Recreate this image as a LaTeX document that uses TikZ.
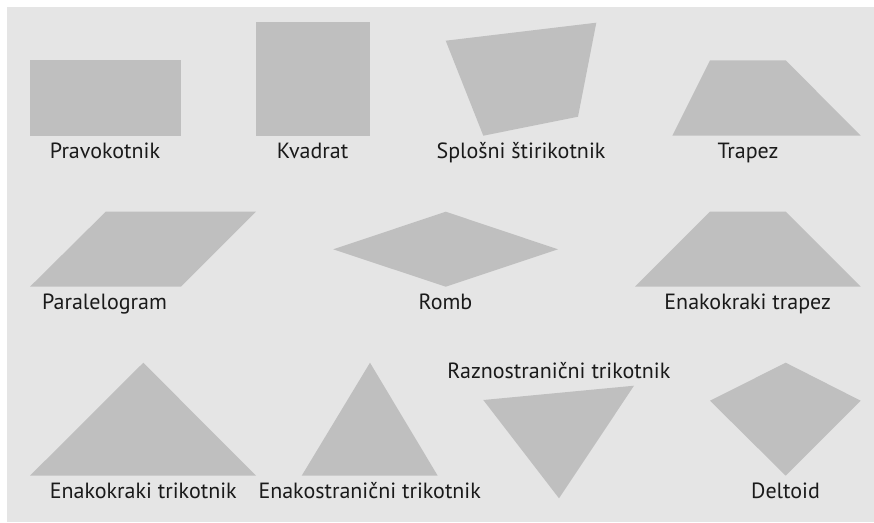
\documentclass[tikz,border=0pt]{standalone}
\usepackage{fontspec}
\setmainfont{PT Sans}
\definecolor{bgc}{HTML}{E5E5E5}
\definecolor{shc}{HTML}{BFBFBF}
\definecolor{txc}{HTML}{1A1A1A}
\tikzset{
  shp/.style={fill=shc, draw=none},
  lbl/.style={anchor=base, inner sep=0pt, text=txc, font=\fontsize{22}{26}\selectfont}
}
\begin{document}
\begin{tikzpicture}[x=1pt,y=-1pt]
\useasboundingbox (0,0) rectangle (874,522);
\fill[bgc] (7,7) rectangle (874,522);
% row 1
\fill[shp] (30,60) rectangle (181,136);
\node[lbl] (l1) at (105,158) {Pravokotnik};
\fill[shp] (256,22) rectangle (370,136);
\node[lbl] (l2) at (312.5,158) {Kvadrat};
\fill[shp] (445.7,40.7) -- (596.3,22.7) -- (578,116.7) -- (483.3,135.7) -- cycle;
\node[lbl] (l3) at (521,158) {Splošni štirikotnik};
\fill[shp] (710,60.3) -- (785.7,60.3) -- (860.7,135.7) -- (672.3,135.7) -- cycle;
\node[lbl] (l4) at (748,158) {Trapez};
% row 2
\fill[shp] (105.7,211.7) -- (256,211.7) -- (181,286.7) -- (30,286.7) -- cycle;
\node[lbl] (l5) at (104.5,309) {Paralelogram};
\fill[shp] (333.3,249.3) -- (445.7,211.7) -- (558,249.3) -- (445.7,286.7) -- cycle;
\node[lbl] (l6) at (445.5,309) {Romb};
\fill[shp] (710,211.7) -- (785.7,211.7) -- (860.7,286.7) -- (635,286.7) -- cycle;
\node[lbl] (l7) at (747.7,309) {Enakokraki trapez};
% row 3
\fill[shp] (143.3,362.7) -- (256,475.7) -- (30,475.7) -- cycle;
\node[lbl] (l8) at (143.3,498.5) {Enakokraki trikotnik};
\fill[shp] (370,362.7) -- (437.7,475.7) -- (301.7,475.7) -- cycle;
\node[lbl] (l9) at (369.7,498.5) {Enakostranični trikotnik};
\fill[shp] (483.3,400) -- (634,385.7) -- (559,498.3) -- cycle;
\node[lbl] (l10) at (558.8,378.5) {Raznostranični trikotnik};
\fill[shp] (785.7,362.7) -- (860.7,400.7) -- (785.7,475.7) -- (710,400.7) -- cycle;
\node[lbl] (l11) at (785.5,498.5) {Deltoid};
\end{tikzpicture}
\end{document}
